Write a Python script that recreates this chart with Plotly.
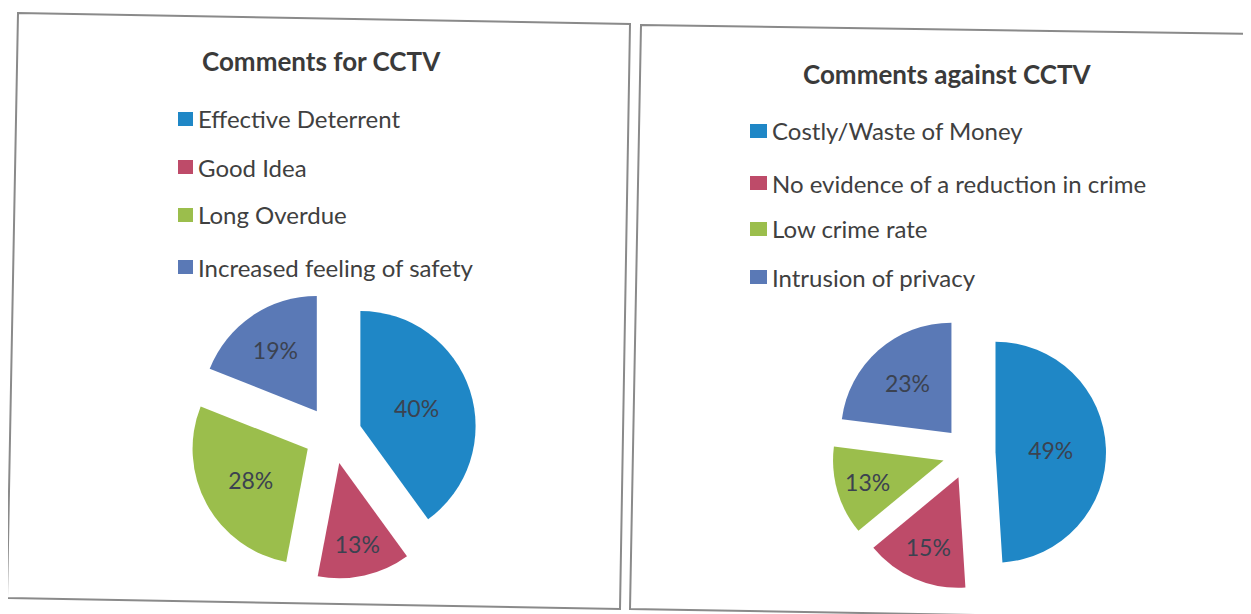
import plotly.graph_objects as go

# two exploded pies, scanned from a council report
W = 1251
H = 614
OFF = 8  # the page body has an 8px margin, so shift everything back

for_labels = ["Effective Deterrent", "Good Idea", "Long Overdue", "Increased feeling of safety"]
for_values = [40, 13, 28, 19]

against_labels = ["Costly/Waste of Money", "No evidence of a reduction in crime", "Low crime rate", "Intrusion of privacy"]
against_values = [49, 15, 13, 23]

colors = ["#1F87C6", "#BE4B69", "#9BBE4C", "#5A79B6"]
text_col = "#404040"


def px(x):
    return (x - OFF) / W


def py(y):
    return 1 - (y - OFF) / H


fig = go.Figure()

# left pie (comments for)
fig.add_trace(go.Pie(
    labels=for_labels,
    values=for_values,
    sort=False,
    direction="clockwise",
    rotation=0,
    pull=0.25,
    marker=dict(colors=colors, line=dict(width=0)),
    textinfo="percent",
    textposition="inside",
    insidetextorientation="horizontal",
    textfont=dict(family="Lato", size=23, color="#3b4250"),
    domain=dict(x=[px(189), px(477)], y=[py(579), py(291)]),
    showlegend=False,
))

# right pie (comments against)
fig.add_trace(go.Pie(
    labels=against_labels,
    values=against_values,
    sort=False,
    direction="clockwise",
    rotation=0,
    pull=0.24,
    marker=dict(colors=colors, line=dict(width=0)),
    textinfo="percent",
    textposition="inside",
    insidetextorientation="horizontal",
    textfont=dict(family="Lato", size=23, color="#3b4250"),
    domain=dict(x=[px(832), px(1106)], y=[py(590), py(316)]),
    showlegend=False,
))

shapes = []
annotations = []

# the two frames are a little skewed on the scan
shapes.append(dict(type="path", xref="paper", yref="paper",
                   path="M %f,%f L %f,%f L %f,%f L %f,%f Z" % (px(18), py(13), px(630), py(24), px(620), py(609), px(7), py(598)),
                   line=dict(color="#8a8a8a", width=2)))
shapes.append(dict(type="path", xref="paper", yref="paper",
                   path="M %f,%f L %f,%f L %f,%f L %f,%f Z" % (px(641), py(25), px(1262), py(34), px(1252), py(620), px(630), py(609)),
                   line=dict(color="#8a8a8a", width=2)))

# titles
annotations.append(dict(text="<b>Comments for CCTV</b>", x=px(322), y=py(61), xref="paper", yref="paper",
                        showarrow=False, xanchor="center", yanchor="middle",
                        font=dict(family="Lato", size=26, color="#3a3a3a")))
annotations.append(dict(text="<b>Comments against CCTV</b>", x=px(948), y=py(74), xref="paper", yref="paper",
                        showarrow=False, xanchor="center", yanchor="middle",
                        font=dict(family="Lato", size=26, color="#3a3a3a")))

# hand-made legends, since plotly legend rows are too tight
left_rows = [119, 167, 215, 267]
right_rows = [131, 183, 229, 277]
for i in range(4):
    shapes.append(dict(type="rect", xref="paper", yref="paper",
                       x0=px(178), x1=px(193), y0=py(left_rows[i] - 7), y1=py(left_rows[i] + 7),
                       fillcolor=colors[i], line=dict(width=0)))
    annotations.append(dict(text=for_labels[i], x=px(196), y=py(left_rows[i]), xref="paper", yref="paper",
                            showarrow=False, xanchor="left", yanchor="middle",
                            font=dict(family="Lato", size=24, color=text_col)))
    shapes.append(dict(type="rect", xref="paper", yref="paper",
                       x0=px(750), x1=px(767), y0=py(right_rows[i] - 7), y1=py(right_rows[i] + 7),
                       fillcolor=colors[i], line=dict(width=0)))
    annotations.append(dict(text=against_labels[i], x=px(770), y=py(right_rows[i]), xref="paper", yref="paper",
                            showarrow=False, xanchor="left", yanchor="middle",
                            font=dict(family="Lato", size=24, color=text_col)))

fig.update_layout(
    width=W,
    height=H,
    margin=dict(l=0, r=0, t=0, b=0),
    paper_bgcolor="white",
    plot_bgcolor="white",
    shapes=shapes,
    annotations=annotations,
)

fig.write_html("out.html")
